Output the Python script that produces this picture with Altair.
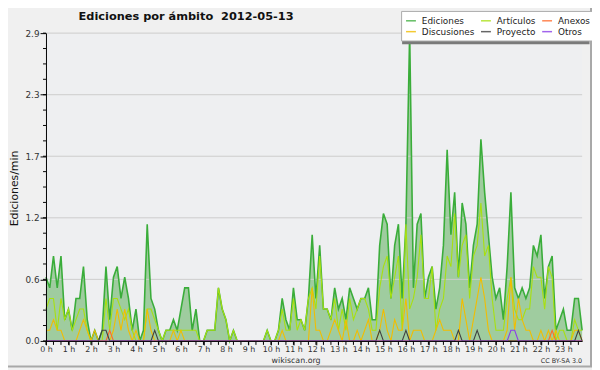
import altair as alt
import pandas as pd

# ---- data (edits per minute, 10-minute steps, 00:00 .. 23:50) ----
EDICIONES = [
    0.6, 0.5, 0.8, 0.5, 0.8, 0.2,   # 0 h
    0.3, 0.1, 0.4, 0.4, 0.7, 0.2,   # 1 h
    0.0, 0.1, 0.0, 0.1, 0.7, 0.2,   # 2 h
    0.6, 0.7, 0.4, 0.6, 0.4, 0.1,   # 3 h
    0.3, 0.0, 0.1, 1.1, 0.4, 0.3,   # 4 h
    0.1, 0.0, 0.1, 0.1, 0.2, 0.1,   # 5 h
    0.3, 0.5, 0.5, 0.1, 0.3, 0.0,   # 6 h
    0.0, 0.1, 0.1, 0.1, 0.5, 0.3,   # 7 h
    0.2, 0.0, 0.1, 0.0, 0.0, 0.0,   # 8 h
    0.0, 0.0, 0.0, 0.0, 0.0, 0.1,   # 9 h
    0.0, 0.0, 0.1, 0.4, 0.2, 0.1,   # 10 h
    0.5, 0.2, 0.2, 0.1, 0.4, 1.0,   # 11 h
    0.4, 0.9, 0.3, 0.3, 0.2, 0.5,   # 12 h
    0.3, 0.4, 0.2, 0.5, 0.4, 0.3,   # 13 h
    0.4, 0.4, 0.5, 0.2, 0.2, 0.9,   # 14 h
    1.2, 1.1, 0.4, 0.9, 1.1, 0.4,   # 15 h
    1.1, 2.9, 0.5, 1.1, 1.2, 0.4,   # 16 h
    0.6, 0.7, 0.3, 0.5, 0.9, 1.8,   # 17 h
    1.0, 1.4, 0.6, 1.3, 1.1, 0.5,   # 18 h
    0.9, 1.1, 1.9, 1.4, 1.0, 0.6,   # 19 h
    0.4, 0.5, 0.2, 0.7, 1.4, 0.5,   # 20 h
    0.4, 0.5, 0.4, 0.5, 0.9, 0.8,   # 21 h
    1.0, 0.4, 0.7, 0.8, 0.1, 0.2,   # 22 h
    0.3, 0.1, 0.1, 0.4, 0.4, 0.1,   # 23 h
]
ARTICULOS = [
    0.3, 0.4, 0.4, 0.1, 0.4, 0.2,
    0.3, 0.1, 0.2, 0.3, 0.3, 0.1,
    0.0, 0.0, 0.0, 0.0, 0.4, 0.1,
    0.4, 0.4, 0.3, 0.2, 0.3, 0.1,
    0.0, 0.0, 0.0, 0.3, 0.3, 0.2,
    0.1, 0.0, 0.1, 0.1, 0.1, 0.1,
    0.1, 0.1, 0.1, 0.1, 0.1, 0.0,
    0.0, 0.1, 0.1, 0.1, 0.5, 0.3,
    0.2, 0.0, 0.1, 0.0, 0.0, 0.0,
    0.0, 0.0, 0.0, 0.0, 0.0, 0.1,
    0.0, 0.0, 0.1, 0.3, 0.1, 0.1,
    0.4, 0.1, 0.2, 0.1, 0.4, 0.5,
    0.3, 0.8, 0.3, 0.3, 0.2, 0.4,
    0.1, 0.3, 0.1, 0.4, 0.2, 0.3,
    0.4, 0.4, 0.3, 0.1, 0.1, 0.5,
    0.7, 0.8, 0.4, 0.6, 0.8, 0.1,
    1.1, 0.3, 0.4, 0.6, 1.0, 0.4,
    0.4, 0.7, 0.1, 0.3, 0.4, 0.8,
    0.7, 1.2, 0.6, 0.9, 1.0, 0.4,
    0.8, 0.9, 1.3, 0.8, 0.9, 0.4,
    0.1, 0.1, 0.1, 0.4, 0.6, 0.3,
    0.2, 0.2, 0.3, 0.3, 0.7, 0.6,
    0.6, 0.3, 0.7, 0.6, 0.0, 0.1,
    0.1, 0.0, 0.0, 0.2, 0.1, 0.1,
]
DISCUSIONES = [
    0.1, 0.1, 0.2, 0.1, 0.1, 0.0,
    0.0, 0.0, 0.0, 0.1, 0.2, 0.1,
    0.0, 0.1, 0.0, 0.0, 0.0, 0.0,
    0.1, 0.3, 0.1, 0.3, 0.1, 0.0,
    0.1, 0.0, 0.0, 0.3, 0.1, 0.0,
    0.0, 0.0, 0.0, 0.0, 0.1, 0.0,
    0.1, 0.0, 0.0, 0.0, 0.0, 0.0,
    0.0, 0.0, 0.0, 0.0, 0.0, 0.0,
    0.0, 0.0, 0.0, 0.0, 0.0, 0.0,
    0.0, 0.0, 0.0, 0.0, 0.0, 0.0,
    0.0, 0.0, 0.0, 0.1, 0.0, 0.0,
    0.0, 0.0, 0.0, 0.0, 0.0, 0.5,
    0.1, 0.1, 0.0, 0.0, 0.1, 0.2,
    0.1, 0.0, 0.2, 0.0, 0.0, 0.1,
    0.0, 0.1, 0.2, 0.0, 0.0, 0.1,
    0.3, 0.1, 0.0, 0.2, 0.1, 0.1,
    0.4, 0.0, 0.1, 0.1, 0.1, 0.0,
    0.0, 0.0, 0.1, 0.2, 0.1, 0.1,
    0.1, 0.0, 0.0, 0.4, 0.2, 0.0,
    0.2, 0.4, 0.6, 0.4, 0.1, 0.0,
    0.0, 0.0, 0.0, 0.1, 0.6, 0.1,
    0.4, 0.2, 0.1, 0.1, 0.0, 0.0,
    0.1, 0.0, 0.1, 0.0, 0.1, 0.0,
    0.0, 0.0, 0.0, 0.1, 0.1, 0.0,
]
ANEXOS = [0.0] * 17 + [0.1] + [0.0] * 117 + [0.1] + [0.0] * 8
PROYECTO = ([0.0] * 15 + [0.1, 0.1] + [0.0] * 12 + [0.1] + [0.0] * 59 + [0.1]
            + [0.0] * 6 + [0.1] + [0.0] * 13 + [0.1] + [0.0] * 4 + [0.1]
            + [0.0] * 26 + [0.1, 0.0])
OTROS = [0.0] * 124 + [0.1, 0.1] + [0.0] * 18

# legend is filled column by column: (Ediciones, Discusiones), (Artículos, Proyecto), (Anexos, Otros)
SERIES = ["Ediciones", "Discusiones", "Artículos", "Proyecto", "Anexos", "Otros"]
COLORS = ["#3aad3a", "#f2bd00", "#a8e010", "#404040", "#ff6a2a", "#8a3ee8"]

Y_MAJOR = [0, 0.58, 1.16, 1.74, 2.32, 2.9]
Y_MINOR = [round(k * 0.145, 3) for k in range(21)]
X_HOURS = list(range(0, 144, 6))
X_MINOR = list(range(0, 144, 2))

TITLE = "Ediciones por ámbito \u00a02012-05-13"

# ---- build tables ----
n = len(EDICIONES)
df_total = pd.DataFrame({"i": list(range(n)), "v": EDICIONES, "s": "Ediciones"})
parts = []
for name, vals in [("Artículos", ARTICULOS), ("Discusiones", DISCUSIONES),
                   ("Anexos", ANEXOS), ("Proyecto", PROYECTO), ("Otros", OTROS)]:
    parts.append(pd.DataFrame({"i": list(range(len(vals))), "v": vals, "s": name}))
df_other = pd.concat(parts, ignore_index=True)

W, H = 543.5, 312

xs = alt.Scale(domain=[0, 143], nice=False, zero=False)
ys = alt.Scale(domain=[0, 2.9], nice=False)
cs = alt.Scale(domain=SERIES, range=COLORS)

x_axis = alt.Axis(values=X_HOURS, labelExpr="datum.value / 6 + ' h'", tickSize=4,
                  tickColor="#000", domainColor="#000", labelFontSize=8,
                  labelColor="#333", labelPadding=1, grid=False, title=None,
                  zindex=1, labelOverlap=False, labelFlush=False)
y_axis = alt.Axis(values=Y_MAJOR, format=".1f", tickSize=6, tickColor="#000",
                  domainColor="#000", labelFontSize=9, labelColor="#333",
                  labelPadding=1, grid=False, title=None, zindex=1)

X = alt.X("i:Q", scale=xs, axis=x_axis)
Y = alt.Y("v:Q", scale=ys, axis=y_axis)

legend = alt.Legend(orient="none", legendX=360, legendY=-22.5, columns=3,
                    symbolType="stroke", symbolSize=100, symbolStrokeWidth=1.5,
                    symbolOpacity=0.8, labelFontSize=9, labelColor="#222",
                    fillColor="#ffffff", strokeColor="#aaaaaa", padding=4,
                    columnPadding=3, rowPadding=0, labelOffset=5, title=None)

one = pd.DataFrame({"t": [TITLE]})

border = alt.Chart(one).mark_rect(fillOpacity=0, stroke="#a8a8a8", strokeWidth=2).encode(
    x=alt.value(-60), x2=alt.value(552.5), y=alt.value(-60), y2=alt.value(338))

area = alt.Chart(df_total).mark_area(color="#9fcc9f", opacity=1).encode(x=X, y=Y)

grid = alt.Chart(pd.DataFrame({"v": Y_MAJOR[1:]})).mark_rule(
    color="#cccccc", strokeWidth=1).encode(y=Y, x=alt.value(0), x2=alt.value(W))

yminor = alt.Chart(pd.DataFrame({"v": Y_MINOR})).mark_rule(
    color="#000", strokeWidth=1).encode(y=Y, x=alt.value(-3), x2=alt.value(0))

xminor = alt.Chart(pd.DataFrame({"i": X_MINOR})).mark_rule(
    color="#000", strokeWidth=1).encode(x=X, y=alt.value(H), y2=alt.value(H + 4))

total_line = alt.Chart(df_total).mark_line(strokeWidth=1.6).encode(
    x=X, y=Y, color=alt.Color("s:N", scale=cs, legend=legend))

other_lines = alt.Chart(df_other).mark_line(strokeWidth=1.1).encode(
    x=X, y=Y, color=alt.Color("s:N", scale=cs, legend=legend))

shadow = alt.Chart(one).mark_rect(color="#7a7a7a").encode(
    x=alt.value(361), x2=alt.value(551), y=alt.value(-15.5), y2=alt.value(11.3))

title = alt.Chart(one).mark_text(fontSize=11.5, fontWeight="bold", align="center",
                                 baseline="alphabetic", color="#111").encode(
    x=alt.value(142), y=alt.value(-13), text="t:N")

ytitle = alt.Chart(pd.DataFrame({"t": ["Ediciones/min"]})).mark_text(
    fontSize=11, angle=270, align="center", baseline="middle", color="#111").encode(
    x=alt.value(-31.5), y=alt.value(157.5), text="t:N")

site = alt.Chart(pd.DataFrame({"t": ["wikiscan.org"]})).mark_text(
    fontSize=8, align="center", baseline="alphabetic", color="#333").encode(
    x=alt.value(253.5), y=alt.value(334), text="t:N")

lic = alt.Chart(pd.DataFrame({"t": ["CC BY-SA 3.0"]})).mark_text(
    fontSize=6.5, align="right", baseline="alphabetic", color="#333").encode(
    x=alt.value(543.5), y=alt.value(334), text="t:N")

chart = alt.layer(
    border, area, grid, yminor, xminor, total_line, other_lines, shadow,
    title, ytitle, site, lic
).properties(
    width=W, height=H, background="#f0f0f0",
    padding={"left": 38.5, "top": 23, "right": 10, "bottom": 27},
    autosize=alt.AutoSizeParams(type="none"),
).configure(font="DejaVu Sans").configure_view(fill="#eeeff1", stroke=None)

chart.save("out.html", embed_options={"renderer": "svg", "actions": False})
